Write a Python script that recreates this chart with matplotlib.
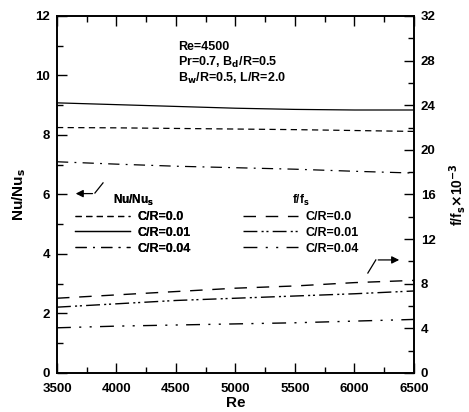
import matplotlib
matplotlib.use('Agg')
import matplotlib.pyplot as plt

plt.rcParams['font.family'] = ['Liberation Sans', 'DejaVu Sans']
plt.rcParams['font.weight'] = 'bold'
plt.rcParams['mathtext.default'] = 'bf'

re = [3500, 4000, 4500, 5000, 5500, 6000, 6500]

# Nu/Nu_s (left axis)
nu_cr00 = [8.25, 8.24, 8.22, 8.20, 8.18, 8.15, 8.12]
nu_cr01 = [9.08, 9.02, 8.96, 8.90, 8.86, 8.84, 8.84]
nu_cr04 = [7.10, 7.02, 6.95, 6.90, 6.85, 6.78, 6.72]

# f/f_s x 10^-3 (right axis)
f_cr00 = [6.7, 7.0, 7.3, 7.6, 7.8, 8.1, 8.3]
f_cr01 = [5.9, 6.2, 6.5, 6.7, 6.9, 7.1, 7.35]
f_cr04 = [4.05, 4.2, 4.3, 4.4, 4.5, 4.65, 4.8]

labels = ['C/R=0.0', 'C/R=0.01', 'C/R=0.04']

fig = plt.figure(figsize=(4.69, 4.12), dpi=100)
ax = fig.add_axes([0.1215, 0.0947, 0.761, 0.8665])
ax2 = ax.twinx()

nu_styles = [(0, (5, 3.5)), '-', (0, (9, 5, 1.5, 5))]
f_styles = [(0, (9, 7)), (0, (10, 3, 1.5, 2, 1.5, 3)), (0, (10, 6, 1.5, 6, 1.5, 6))]

h1 = []
for y, ls, lab in zip([nu_cr00, nu_cr01, nu_cr04], nu_styles, labels):
    h1 += ax.plot(re, y, color='black', lw=0.9, ls=ls, label=lab)
h2 = []
for y, ls, lab in zip([f_cr00, f_cr01, f_cr04], f_styles, labels):
    h2 += ax2.plot(re, y, color='black', lw=1.0, ls=ls, label=lab)

ax.set_xlim(3500, 6500)
ax.set_ylim(0, 12)
ax2.set_ylim(0, 32)
ax.set_xticks(range(3500, 6501, 500))
ax.set_xticks(range(3750, 6500, 500), minor=True)
ax.set_yticks(range(0, 13, 2))
ax.set_yticks(range(1, 12, 2), minor=True)
ax2.set_yticks(range(0, 33, 4))
ax2.set_yticks(range(2, 32, 4), minor=True)

ax.tick_params(which='both', direction='in', top=True, labelsize=9.5, width=1)
ax.tick_params(axis='x', pad=7)
ax.tick_params(axis='y', pad=5)
ax.tick_params(which='major', length=7)
ax.tick_params(which='minor', length=4)
ax2.tick_params(which='both', direction='in', labelsize=9.5, width=1, pad=5)
ax2.tick_params(which='major', length=7)
ax2.tick_params(which='minor', length=4)
for a in (ax, ax2):
    for s in a.spines.values():
        s.set_linewidth(1.2)

ax.set_xlabel('Re', fontsize=11, fontweight='bold', labelpad=1)
ax.set_ylabel(r'Nu/Nu$_\mathbf{s}$', fontsize=11, fontweight='bold', labelpad=5)
ax2.set_ylabel(r'f/f$_\mathbf{s}$$\times$10$^{-3}$', fontsize=10, fontweight='bold', labelpad=8)

ax.text(0.34, 0.93, 'Re=4500\nPr=0.7, B$_d$/R=0.5\nB$_w$/R=0.5, L/R=2.0',
        transform=ax.transAxes, fontsize=9, fontweight='bold', va='top', ha='left',
        linespacing=1.15)

leg1 = ax.legend(handles=h1, loc='upper left', bbox_to_anchor=(0.02, 0.535),
                 frameon=False, fontsize=9, handlelength=4.4, handletextpad=0.6,
                 labelspacing=0.3, title=r'Nu/Nu$_\mathbf{s}$', title_fontsize=8.5)
leg1._legend_box.align = 'center'
leg1._legend_box.sep = 2
ax.add_artist(leg1)
leg2 = ax2.legend(handles=h2, loc='upper left', bbox_to_anchor=(0.49, 0.535),
                  frameon=False, fontsize=9, handlelength=4.4, handletextpad=0.6,
                  labelspacing=0.3, title=r'f/f$_\mathbf{s}$', title_fontsize=8.5)
leg2._legend_box.align = 'center'
leg2._legend_box.sep = 2

# pointer arrows
ax.plot([3887, 3819], [6.39, 6.05], color='black', lw=0.9)
ax.annotate('', xy=(3634, 6.03), xytext=(3822, 6.03),
            arrowprops=dict(arrowstyle='-|>', color='black', lw=0.9, mutation_scale=11))
ax.plot([6113, 6180], [3.36, 3.8], color='black', lw=0.9)
ax.annotate('', xy=(6400, 3.8), xytext=(6177, 3.8),
            arrowprops=dict(arrowstyle='-|>', color='black', lw=0.9, mutation_scale=11))

fig.savefig('out.png', dpi=100)
